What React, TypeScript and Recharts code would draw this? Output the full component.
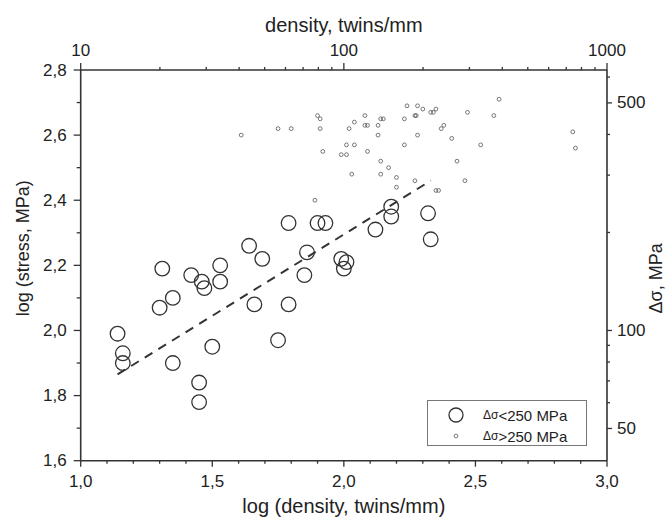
import { ScatterChart, Scatter, XAxis, YAxis, ReferenceLine } from 'recharts'

// log10 of twin density and stress
const lowDensity = [1.14, 1.16, 1.16, 1.31, 1.30, 1.35, 1.35, 1.42, 1.46, 1.47, 1.53, 1.53, 1.45, 1.45, 1.50, 1.64, 1.69, 1.66, 1.79, 1.79, 1.75, 1.90, 1.93, 1.86, 1.85, 1.99, 2.01, 2.00, 2.18, 2.18, 2.12, 2.32, 2.33]
const lowStress = [1.99, 1.93, 1.90, 2.19, 2.07, 2.10, 1.90, 2.17, 2.15, 2.13, 2.20, 2.15, 1.84, 1.78, 1.95, 2.26, 2.22, 2.08, 2.33, 2.08, 1.97, 2.33, 2.33, 2.24, 2.17, 2.22, 2.21, 2.19, 2.38, 2.35, 2.31, 2.36, 2.28]

const highDensity = [1.61, 1.75, 1.80, 1.90, 1.91, 1.91, 1.92, 1.99, 2.01, 2.01, 2.04, 2.02, 2.04, 2.03, 1.89, 2.08, 2.08, 2.09, 2.13, 2.14, 2.15, 2.13, 2.09, 2.14, 2.14, 2.17, 2.20, 2.20, 2.23, 2.24, 2.23, 2.27, 2.275, 2.28, 2.30, 2.28, 2.27, 2.33, 2.34, 2.35, 2.37, 2.38, 2.41, 2.43, 2.46, 2.35, 2.36, 2.47, 2.52, 2.57, 2.59, 2.87, 2.88]
const highStress = [2.60, 2.62, 2.62, 2.66, 2.65, 2.62, 2.55, 2.54, 2.54, 2.57, 2.57, 2.62, 2.64, 2.48, 2.40, 2.66, 2.63, 2.63, 2.63, 2.65, 2.65, 2.60, 2.55, 2.52, 2.48, 2.50, 2.47, 2.44, 2.65, 2.69, 2.57, 2.66, 2.66, 2.69, 2.68, 2.60, 2.46, 2.67, 2.67, 2.68, 2.62, 2.63, 2.59, 2.52, 2.46, 2.43, 2.43, 2.67, 2.57, 2.66, 2.71, 2.61, 2.56]

const fitDensity = [1.14, 2.33]
const fitStress = [1.865, 2.46]

const xTicks = [1.0, 1.1, 1.2, 1.3, 1.4, 1.5, 1.6, 1.7, 1.8, 1.9, 2.0, 2.1, 2.2, 2.3, 2.4, 2.5, 2.6, 2.7, 2.8, 2.9, 3.0]
const xLabelled = [1.0, 1.5, 2.0, 2.5, 3.0]
const yTicks = [1.6, 1.7, 1.8, 1.9, 2.0, 2.1, 2.2, 2.3, 2.4, 2.5, 2.6, 2.7, 2.8]
const yLabelled = [1.6, 1.8, 2.0, 2.2, 2.4, 2.6, 2.8]
// top and right axes: plain values placed on the plot's log10 scale
const densityTicks = [10, 20, 30, 40, 50, 60, 70, 80, 90, 100, 200, 300, 400, 500, 600, 700, 800, 900, 1000]
const densityLabelled = [10, 100, 1000]
const deltaTicks = [50, 60, 70, 80, 90, 100, 200, 300, 400, 500, 600]
const deltaLabelled = [50, 100, 500]

const lowPoints = lowDensity.map((x, i) => ({ x, y: lowStress[i] }))
const highPoints = highDensity.map((x, i) => ({ x, y: highStress[i] }))

const INK = '#333'
const TXT = '#222'
const FONT = '"Liberation Sans", Arial, sans-serif'
const comma = (v: number) => v.toFixed(1).replace('.', ',')
const unlog = (v: number) => Math.round(Math.pow(10, v))

const tickText = { fontSize: 17, fill: TXT, fontFamily: FONT }
const titleText = { fontSize: 20, fill: TXT, fontFamily: FONT }
const sideTitleText = { fontSize: 18, fill: TXT, fontFamily: FONT }

function BottomTick({ x, y, payload }: any) {
  const major = xLabelled.includes(payload.value)
  return (
    <g>
      <line x1={x} x2={x} y1={y} y2={y + (major ? 6 : 3)} stroke={INK} strokeWidth={1.3} />
      {major && <text x={x} y={y + 21} textAnchor="middle" dominantBaseline="central" {...tickText}>{comma(payload.value)}</text>}
    </g>
  )
}

function LeftTick({ x, y, payload }: any) {
  const major = yLabelled.includes(payload.value)
  return (
    <g>
      <line x1={x} x2={x - (major ? 7 : 4)} y1={y} y2={y} stroke={INK} strokeWidth={1.3} />
      {major && <text x={x - 14} y={y} textAnchor="end" dominantBaseline="central" {...tickText}>{comma(payload.value)}</text>}
    </g>
  )
}

function TopTick({ x, y, payload }: any) {
  const value = unlog(payload.value)
  const major = densityLabelled.includes(value)
  return (
    <g>
      <line x1={x} x2={x} y1={y} y2={y - (major ? 7 : 3)} stroke={INK} strokeWidth={1.3} />
      {major && <text x={x} y={y - 20} textAnchor="middle" dominantBaseline="central" {...tickText}>{value}</text>}
    </g>
  )
}

function RightTick({ x, y, payload }: any) {
  const value = unlog(payload.value)
  const major = deltaLabelled.includes(value)
  return (
    <g>
      <line x1={x} x2={x + (major ? 5 : 3)} y1={y} y2={y} stroke={INK} strokeWidth={1.3} />
      {major && <text x={x + 10} y={y} textAnchor="start" dominantBaseline="central" {...tickText}>{value}</text>}
    </g>
  )
}

const bigCircle = (p: any) => <circle cx={p.cx} cy={p.cy} r={7.3} fill="none" stroke={INK} strokeWidth={1.3} />
const smallCircle = (p: any) => <circle cx={p.cx} cy={p.cy} r={1.9} fill="none" stroke="#555" strokeWidth={0.8} />

export default function App() {
  return (
    <div style={{ position: 'fixed', left: 0, top: 0, width: 672, height: 517, background: '#fff' }}>
      <ScatterChart width={672} height={517} margin={{ top: 30, right: 15, bottom: 16.3, left: 30.7 }}>
        <XAxis
          xAxisId="bottom" dataKey="x" type="number" domain={[1, 3]} ticks={xTicks} interval={0}
          allowDataOverflow height={40} tickSize={0} tickMargin={0} tickLine={false} axisLine={{ stroke: INK, strokeWidth: 1.6 }}
          tick={(p: any) => <BottomTick {...p} />}
          label={{
            content: ({ viewBox }: any) => (
              <text x={viewBox.x + viewBox.width / 2} y={viewBox.y + 45} textAnchor="middle" dominantBaseline="central" {...titleText}>log (density, twins/mm)</text>
            ),
          }}
        />
        <XAxis
          xAxisId="top" dataKey="x" orientation="top" type="number" domain={[1, 3]} ticks={densityTicks.map(Math.log10)} interval={0}
          allowDataOverflow height={40} tickSize={0} tickMargin={0} tickLine={false} axisLine={{ stroke: INK, strokeWidth: 1.6 }}
          tick={(p: any) => <TopTick {...p} />}
          label={{
            content: ({ viewBox }: any) => (
              <text x={viewBox.x + viewBox.width / 2} y={viewBox.y - 5} textAnchor="middle" dominantBaseline="central" {...titleText}>density, twins/mm</text>
            ),
          }}
        />
        <YAxis
          yAxisId="left" dataKey="y" type="number" domain={[1.6, 2.8]} ticks={yTicks} interval={0}
          allowDataOverflow width={50} tickSize={0} tickMargin={0} tickLine={false} axisLine={{ stroke: INK, strokeWidth: 1.6 }}
          tick={(p: any) => <LeftTick {...p} />}
          label={{
            content: ({ viewBox }: any) => {
              const cx = viewBox.x - 8
              const cy = viewBox.y + viewBox.height / 2 - 17
              return <text x={cx} y={cy} transform={`rotate(-90 ${cx} ${cy})`} textAnchor="middle" dominantBaseline="central" {...sideTitleText}>log (stress, MPa)</text>
            },
          }}
        />
        <YAxis
          yAxisId="right" dataKey="y" orientation="right" type="number" domain={[1.6, 2.8]}
          ticks={deltaTicks.map(Math.log10)} interval={0} allowDataOverflow width={50} tickSize={0} tickMargin={0} tickLine={false}
          axisLine={{ stroke: INK, strokeWidth: 1.6 }}
          tick={(p: any) => <RightTick {...p} />}
          label={{
            content: ({ viewBox }: any) => {
              const cx = viewBox.x + 49
              const cy = viewBox.y + viewBox.height / 2 + 13
              return <text x={cx} y={cy} transform={`rotate(-90 ${cx} ${cy})`} textAnchor="middle" dominantBaseline="central" {...sideTitleText}>Δσ, MPa</text>
            },
          }}
        />
        <ReferenceLine
          xAxisId="bottom" yAxisId="left"
          segment={[{ x: fitDensity[0], y: fitStress[0] }, { x: fitDensity[1], y: fitStress[1] }]}
          stroke={INK} strokeWidth={2} strokeDasharray="9 7"
        />
        <Scatter data={lowPoints} xAxisId="bottom" yAxisId="left" shape={bigCircle} isAnimationActive={false} />
        <Scatter data={highPoints} xAxisId="bottom" yAxisId="left" shape={smallCircle} isAnimationActive={false} />
        {/* hidden copy so the top and right axes have data of their own */}
        <Scatter data={lowPoints} xAxisId="top" yAxisId="right" shape={() => <g />} isAnimationActive={false} />
      </ScatterChart>
      <div style={{ position: 'absolute', left: 427, top: 400, width: 160, height: 46, border: '1px solid #777', boxSizing: 'border-box', background: '#fff' }}>
        <svg width={158} height={44}>
          <circle cx={28} cy={14} r={7} fill="none" stroke={INK} strokeWidth={1.3} />
          <text x={55} y={14} dominantBaseline="central" fontFamily={FONT} fill={TXT}>
            <tspan fontSize={12}>Δσ</tspan><tspan fontSize={15}>&lt;250 MPa</tspan>
          </text>
          <circle cx={28} cy={35} r={1.9} fill="none" stroke="#555" strokeWidth={0.8} />
          <text x={55} y={35} dominantBaseline="central" fontFamily={FONT} fill={TXT}>
            <tspan fontSize={12}>Δσ</tspan><tspan fontSize={15}>&gt;250 MPa</tspan>
          </text>
        </svg>
      </div>
    </div>
  )
}
